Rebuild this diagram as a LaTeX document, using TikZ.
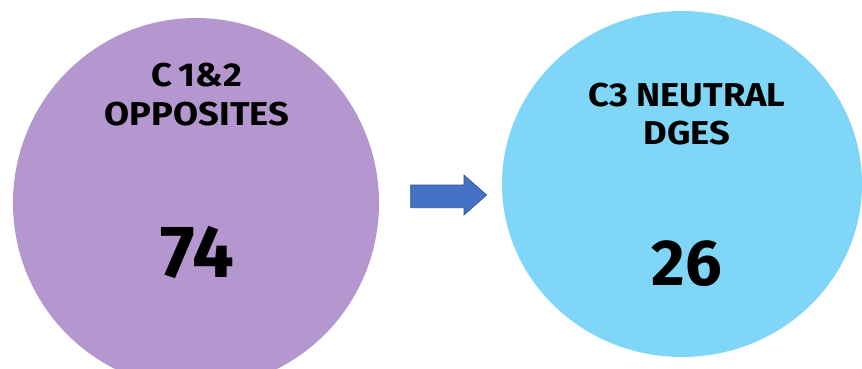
\documentclass[tikz,border=0pt]{standalone}
\usepackage{fontspec}
\usepackage{graphicx}
\setmainfont{Fira Sans}
\usetikzlibrary{shapes.geometric}
\definecolor{lilac}{RGB}{181,151,207}
\definecolor{sky}{RGB}{127,214,247}
\definecolor{arrowblue}{RGB}{68,114,196}
\definecolor{arrowedge}{RGB}{47,82,143}
\newcommand{\wide}[1]{\scalebox{1.1}[1]{#1}}
\begin{document}
\begin{tikzpicture}[x=1pt,y=-1pt,
  blob/.style={ellipse, inner sep=0pt, draw=none},
  lbl/.style={font=\bfseries\fontsize{33}{38}\selectfont, inner sep=0pt, anchor=base, text=black},
  num/.style={font=\bfseries\fontsize{74}{74}\selectfont, inner sep=0pt, anchor=base, text=black}]
\useasboundingbox (0,0) rectangle (862,368);
\clip (0,0) rectangle (862,368);
\node[blob, fill=lilac, minimum width=366pt, minimum height=370pt] (c12) at (196,203) {};
\node[blob, fill=sky, minimum width=360pt, minimum height=346pt] (c3) at (682,184) {};
\node[lbl] (t1a) at (197,86.7) {\wide{C\,1\&2}};
\node[lbl] (t1b) at (197,125) {\wide{OPPOSITES}};
\node[num] (n1) at (197,277) {74};
\node[lbl] (t2a) at (687,106) {\wide{C3 NEUTRAL}};
\node[lbl] (t2b) at (687,144) {\wide{DGES}};
\node[num, font=\bfseries\fontsize{65}{65}\selectfont] (n2) at (687,285) {26};
\draw[fill=arrowblue, draw=arrowedge, line width=0.6pt, line join=miter]
  (410.7,185) -- (464,185) -- (464,175) -- (486.7,195) -- (464,215) -- (464,207.7) -- (410.7,207.7) -- cycle;
\end{tikzpicture}
\end{document}
